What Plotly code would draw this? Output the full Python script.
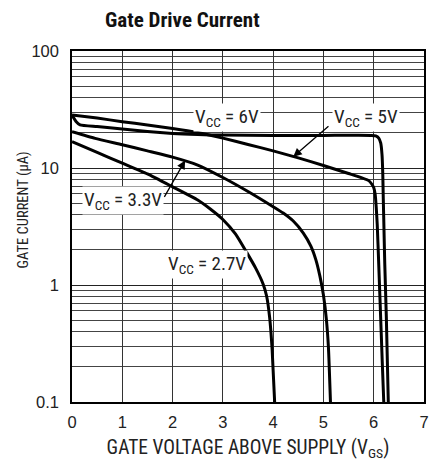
import numpy as np
import plotly.graph_objects as go

# ---- data ----
x_6v = [0, 0.08, 0.16, 0.5, 1.0, 1.5, 2.0, 2.5, 3.0, 4.0, 5.0, 5.95, 6.04, 6.10, 6.14, 6.165, 6.18, 6.19, 6.20, 6.22, 6.25, 6.29]
y_6v = [28.4, 25.0, 23.4, 22.6, 21.5, 20.5, 19.7, 19.3, 19.1, 19.0, 19.0, 19.0, 18.8, 18.0, 16.3, 13.0, 9.0, 5.5, 3.6, 1.5, 0.55, 0.1]

x_5v = [0, 0.5, 1.0, 1.5, 2.0, 2.5, 3.0, 3.5, 4.0, 4.5, 5.0, 5.5, 5.9, 5.96, 6.0, 6.03, 6.05, 6.07, 6.10, 6.14, 6.17, 6.20]
y_5v = [28.4, 26.7, 24.9, 23.3, 21.8, 20.1, 18.0, 15.9, 14.0, 12.2, 10.5, 8.97, 7.8, 7.3, 6.8, 5.9, 4.6, 3.3, 1.5, 0.5, 0.22, 0.1]

x_33v = [0, 0.46, 1.0, 1.5, 2.0, 2.5, 3.0, 3.5, 4.0, 4.2, 4.4, 4.6, 4.75, 4.85, 4.93, 5.0, 5.06, 5.10, 5.14]
y_33v = [20.4, 17.9, 15.8, 14.0, 12.4, 10.6, 8.3, 6.3, 4.67, 4.12, 3.52, 2.78, 2.15, 1.64, 1.19, 0.82, 0.5, 0.29, 0.1]

x_27v = [0, 0.5, 1.0, 1.5, 2.0, 2.5, 2.75, 3.0, 3.25, 3.47, 3.65, 3.8, 3.87, 3.93, 3.98, 4.03]
y_27v = [16.8, 13.6, 11.0, 8.9, 6.9, 5.32, 4.46, 3.63, 2.73, 1.91, 1.40, 1.02, 0.805, 0.53, 0.28, 0.1]

x_ticks = [0, 1, 2, 3, 4, 5, 6, 7]
y_ticks = [0.1, 1, 10, 100]
y_tick_labels = ["0.1", "1", "10", "100"]
y_minor = [m * d for d in (0.1, 1, 10) for m in range(2, 10)]

# label text, position (x, value)
labels = [
    ("V<sub>CC</sub> = 6V", 3.08, 27.1),
    ("V<sub>CC</sub> = 5V", 5.85, 27.1),
    ("V<sub>CC</sub> = 3.3V", 1.01, 5.23),
    ("V<sub>CC</sub> = 2.7V", 2.69, 1.51),
]
# arrows: (tip x, tip value, tail x, tail value)
arrows = [
    (4.4, 12.5, 5.13, 23.3),
    (2.25, 11.6, 1.82, 5.5),
]

NARROW = "Liberation Sans Narrow, Roboto Condensed, Liberation Sans, Arial, sans-serif"
REG = "Liberation Sans, Arial, sans-serif"

fig = go.Figure()
for xs, ys in [(x_6v, y_6v), (x_5v, y_5v), (x_33v, y_33v), (x_27v, y_27v)]:
    fig.add_trace(go.Scatter(x=xs, y=ys, mode="lines",
                             line=dict(color="black", width=3, shape="spline", smoothing=0.5),
                             showlegend=False, hoverinfo="skip"))

for text, lx, ly in labels:
    fig.add_annotation(x=lx, y=np.log10(ly), xref="x", yref="y", text=text,
                       showarrow=False, bgcolor="white", borderpad=1,
                       font=dict(family=NARROW, size=19, color="#222"))

for tx, ty, sx, sy in arrows:
    fig.add_annotation(x=tx, y=np.log10(ty), xref="x", yref="y",
                       ax=sx, ay=np.log10(sy), axref="x", ayref="y",
                       text="", showarrow=True, arrowhead=2, arrowsize=1.3,
                       arrowwidth=1.3, arrowcolor="black", standoff=0)

# y axis title as a rotated annotation
fig.add_annotation(x=0, y=0.5, xref="paper", yref="paper", text="GATE CURRENT (µA)",
                   textangle=-90, showarrow=False, xanchor="center", yanchor="middle",
                   xshift=-49.5, yshift=16.5,
                   font=dict(family=NARROW, size=14.5, color="#222"))

fig.update_layout(
    width=438, height=460,
    margin=dict(l=64, r=22, t=43, b=66, autoexpand=False),
    paper_bgcolor="white", plot_bgcolor="white",
    font=dict(family=NARROW, size=16, color="#222"),
    title=dict(text="<b>Gate Drive Current</b>", x=97 / 438, xanchor="left",
               xref="container", y=1 - 12 / 460, yanchor="middle", yref="container",
               font=dict(family=NARROW, size=21, color="#111")),
)
fig.update_xaxes(range=[0, 7], tickvals=x_ticks, ticktext=[str(v) for v in x_ticks],
                 showgrid=True, gridcolor="#333", gridwidth=1,
                 showline=True, linecolor="black", linewidth=1.5, mirror=True,
                 ticks="", zeroline=False, automargin=False, ticklabelstandoff=4,
                 title=dict(text="GATE VOLTAGE ABOVE SUPPLY (V<sub>GS</sub>)",
                            font=dict(family=NARROW, size=19.5), standoff=11),
                 tickfont=dict(family=REG, size=16.5))
fig.update_yaxes(type="log", range=[-1, 2], tickvals=y_ticks, ticktext=y_tick_labels,
                 showgrid=True, gridcolor="#222", gridwidth=1,
                 minor=dict(tickvals=y_minor, showgrid=True, gridcolor="#444", gridwidth=1, ticks=""),
                 showline=True, linecolor="black", linewidth=1.5, mirror=True,
                 ticks="", zeroline=False, automargin=False, ticklabelstandoff=8,
                 tickfont=dict(family=REG, size=16.5))

fig.write_html("out.html")
